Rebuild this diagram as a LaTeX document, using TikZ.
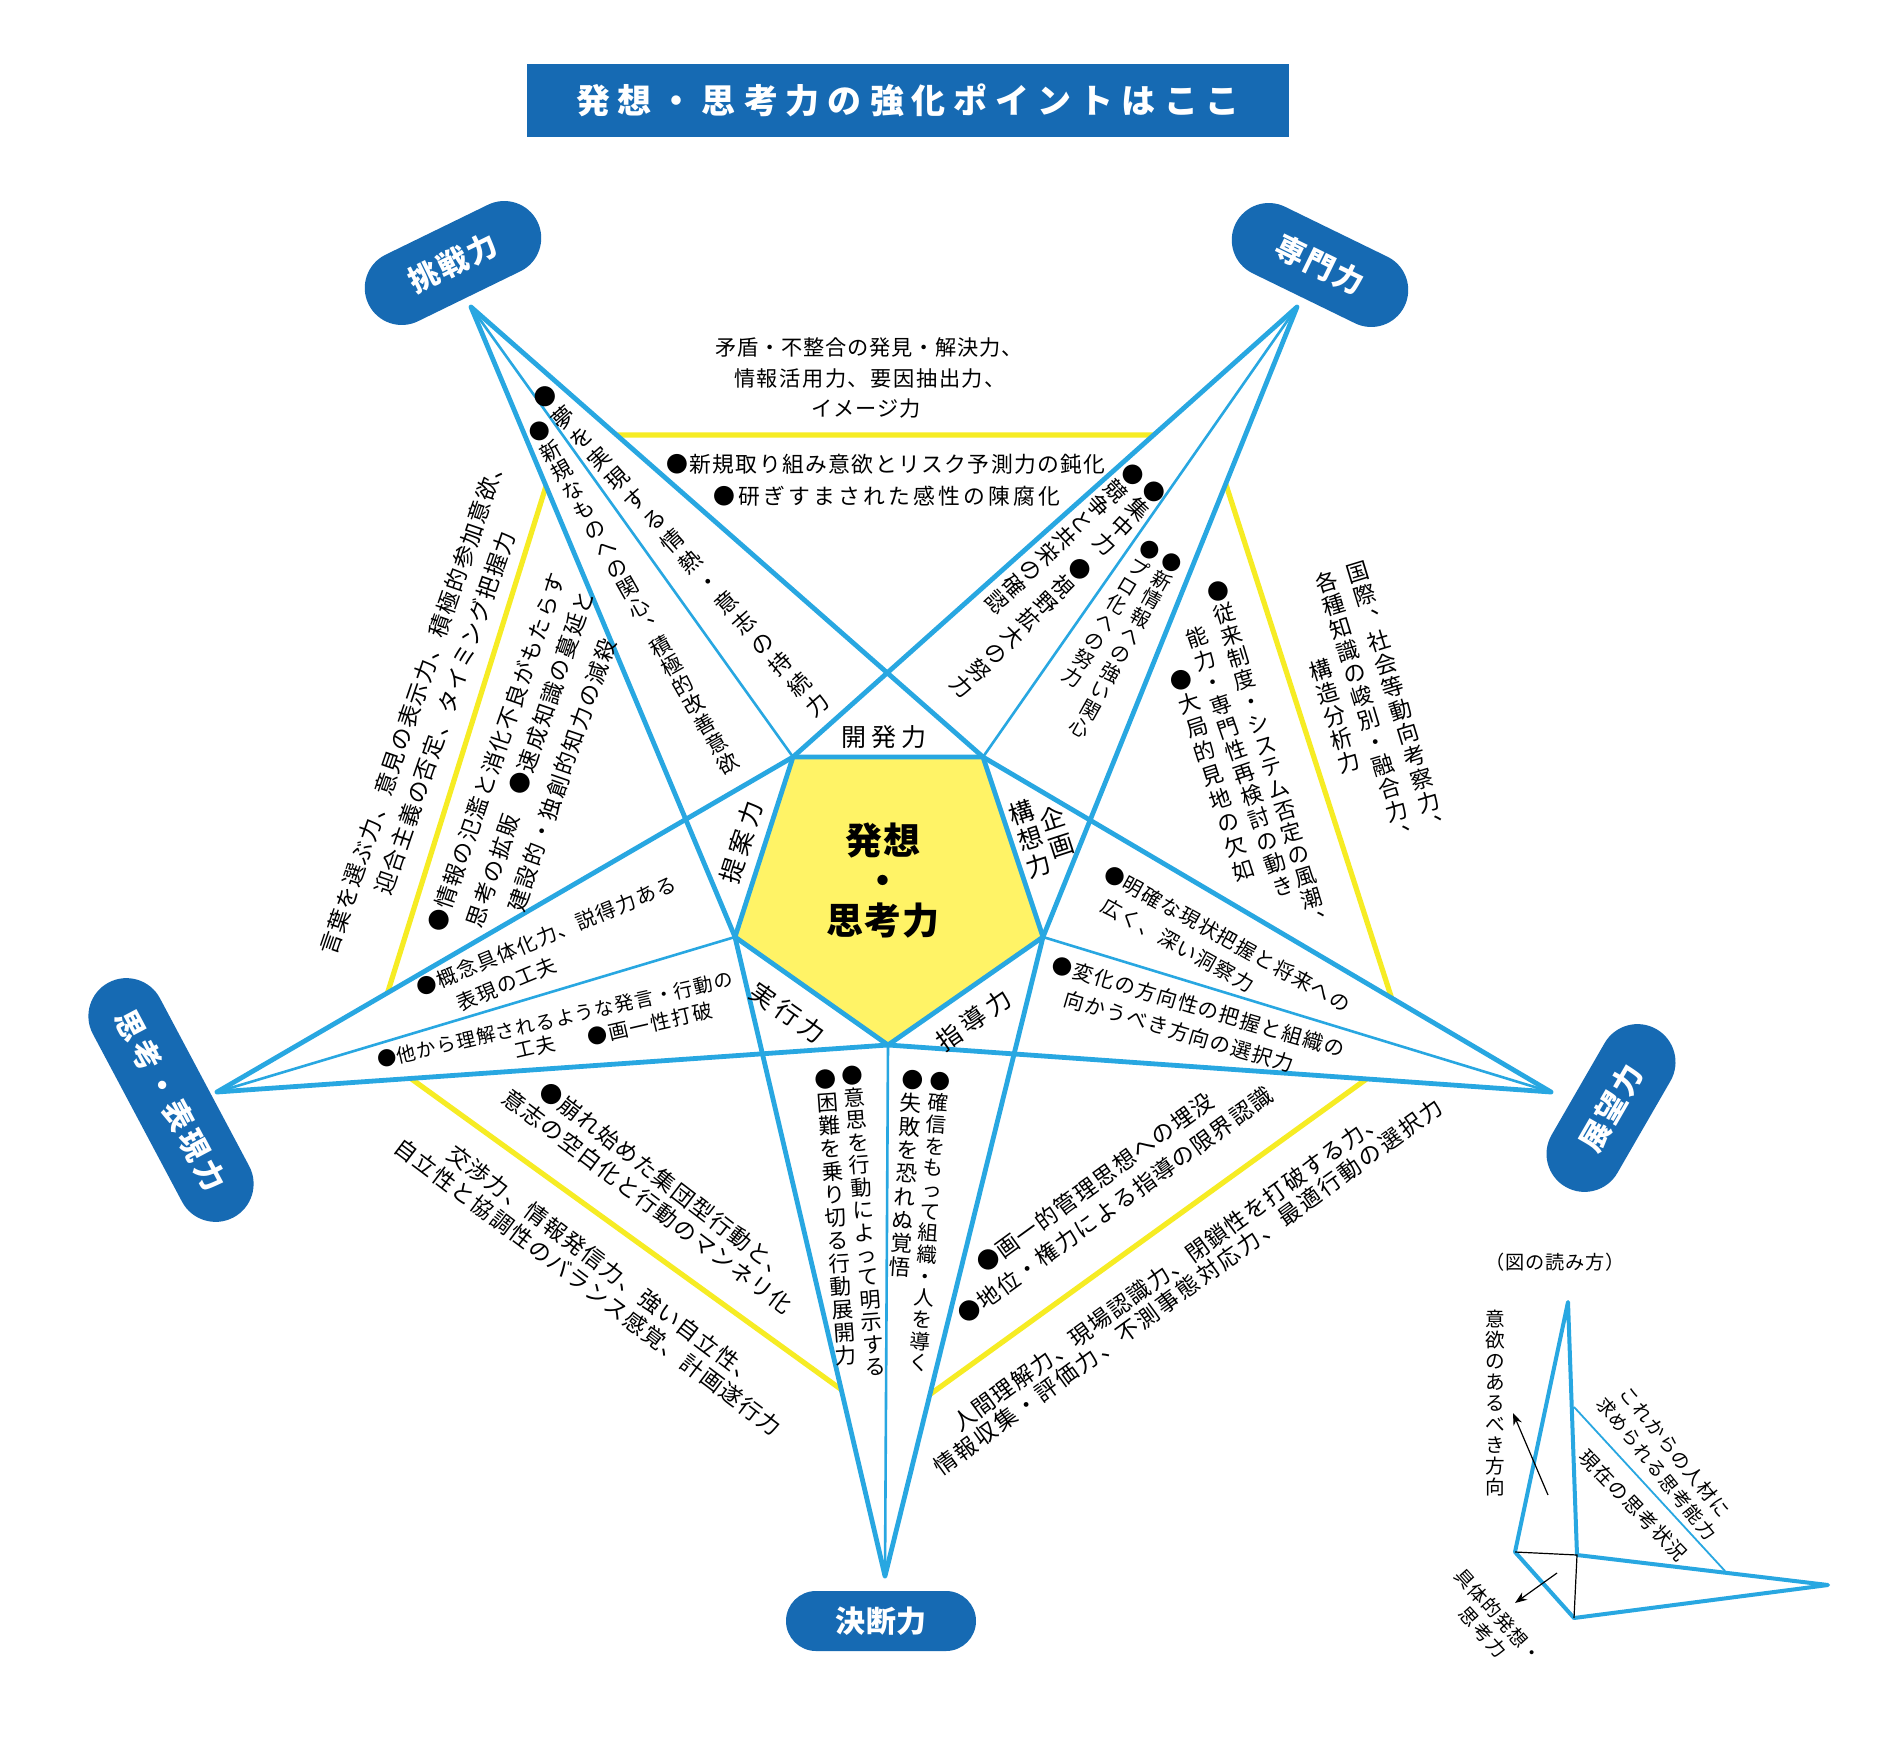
\documentclass[tikz,border=0pt]{standalone}
\usepackage{fontspec}
\setmainfont{Noto Sans CJK JP}
\usetikzlibrary{arrows.meta}
\definecolor{lineblue}{RGB}{40,167,225}
\definecolor{pillblue}{RGB}{22,106,179}
\definecolor{ylw}{RGB}{246,236,36}
\definecolor{ylwfill}{RGB}{255,243,102}
\newdimen\vpitch
\newdimen\pxu \pxu=0.5pt
\def\stopchars{\stopchars}
\def\emstrut{\vrule height.88em depth.12em width0pt\relax}
\def\hloop#1{\ifx\stopchars#1\else\hbox to\vpitch{\hss#1\hss}\expandafter\hloop\fi}
\newcommand\hs[2]{\vpitch=#1\pxu\hbox{\emstrut\hloop#2\stopchars}}
\def\vchr#1{\hbox to 1em{\hss\vbox to\vpitch{\vss\hbox{\emstrut\ifx、#1\kern.5em\smash{\raise.52em\hbox{#1}}\kern-.5em\else#1\fi}\vss}\hss}}
\def\vloop#1{\ifx\stopchars#1\else\vchr{#1}\expandafter\vloop\fi}
\newcommand\vs[2]{\vpitch=#1\pxu\vbox{\offinterlineskip\vloop#2\stopchars}}
\begin{document}
\begin{tikzpicture}[x=0.5pt,y=-0.5pt,
 thk/.style={draw=lineblue,line width=2.4pt,line cap=round,line join=round},
 thn/.style={draw=lineblue,line width=1.3pt,line cap=round},
 jt/.style={inner sep=0pt,font=\fontsize{#1}{#1}\selectfont},
 pill/.style={fill=pillblue,inner sep=0pt,text=white,font=\fontsize{15}{15}\selectfont\bfseries},
 lgb/.style={draw=lineblue,line width=2pt,line join=round},
 lgk/.style={draw=black,line width=0.6pt}]
\fill[white] (0,0) rectangle (1901,1738);
\useasboundingbox (0,0) rectangle (1901,1738);

% geometry
\coordinate (T1) at (471,307);
\coordinate (T2) at (1297,307);
\coordinate (T3) at (1551,1092);
\coordinate (T4) at (885,1576);
\coordinate (T5) at (217,1092);
\coordinate (VTL) at (793,757);
\coordinate (VTR) at (983,757);
\coordinate (VR) at (1043,937);
\coordinate (VB) at (888,1045);
\coordinate (VL) at (735,937);
\coordinate (Y1) at (562,435);
\coordinate (Y2) at (1210,435);
\coordinate (Y3) at (1408,1049);
\coordinate (Y4) at (889,1424);
\coordinate (Y5) at (370,1049);

% yellow pentagon
\draw[ylw,line width=2.6pt,line join=miter] (Y1)--(Y2)--(Y3)--(Y4)--(Y5)--cycle;

% star kites
\fill[white] (T1)--(VL)--(VTL)--(VTR)--cycle;
\fill[white] (T2)--(VTL)--(VTR)--(VR)--cycle;
\fill[white] (T3)--(VTR)--(VR)--(VB)--cycle;
\fill[white] (T4)--(VR)--(VB)--(VL)--cycle;
\fill[white] (T5)--(VB)--(VL)--(VTL)--cycle;
\fill[ylwfill] (VTL)--(VTR)--(VR)--(VB)--(VL)--cycle;

\draw[thn] (T1)--(VTL);
\draw[thn] (T2)--(VTR);
\draw[thn] (T3)--(VR);
\draw[thn] (T4)--(VB);
\draw[thn] (T5)--(VL);
\draw[thk] (T1)--(VL) (T1)--(VTR);
\draw[thk] (T2)--(VTL) (T2)--(VR);
\draw[thk] (T3)--(VTR) (T3)--(VB);
\draw[thk] (T4)--(VR) (T4)--(VL);
\draw[thk] (T5)--(VB) (T5)--(VTL);
\draw[thk] (VTL)--(VTR)--(VR)--(VB)--(VL)--cycle;

% title
\node[fill=pillblue,minimum width=381pt,minimum height=36.5pt,inner sep=0pt,text=white,font=\fontsize{17}{17}\selectfont\bfseries] (title) at (908,100.5) {\hs{42}{発想・思考力の強化ポイントはここ}};

% pills
\node[pill,minimum width=94pt,minimum height=37pt,rounded corners=18.5pt,rotate=26] (p1) at (453,263) {\hs{32}{挑戦力}};
\node[pill,minimum width=94pt,minimum height=37pt,rounded corners=18.5pt,rotate=-26] (p2) at (1320,265) {\hs{32}{専門力}};
\node[pill,minimum width=133pt,minimum height=38pt,rounded corners=19pt,rotate=-62] (p3) at (171,1100) {\hs{34}{思考・表現力}};
\node[pill,minimum width=91pt,minimum height=38pt,rounded corners=19pt,rotate=60] (p4) at (1611,1108) {\hs{32}{展望力}};
\node[pill,minimum width=95pt,minimum height=30pt,rounded corners=15pt] (p5) at (881,1621) {\hs{31}{決断力}};

% center
\node[inner sep=0pt,font=\fontsize{18.5}{18.5}\selectfont\bfseries] (c1) at (883,840) {\hs{38}{発想}};
\node[inner sep=0pt,font=\fontsize{18.5}{18.5}\selectfont\bfseries] (c2) at (883,880) {\hs{38}{・}};
\node[inner sep=0pt,font=\fontsize{18.5}{18.5}\selectfont\bfseries] (c3) at (883,920) {\hs{38}{思考力}};

% labels around inner pentagon
\node[jt=12.5] (o1) at (884,737) {\hs{30}{開発力}};
\node[jt=12.5,rotate=72] (o2) at (741.5,842.5) {\hs{30}{提案力}};
\node[jt=12.5,rotate=-35] (o3) at (788,1013) {\hs{30}{実行力}};
\node[jt=12.5,rotate=35] (o4) at (973.5,1020) {\hs{30}{指導力}};
\node[jt=12.5,rotate=18] (o5) at (1057,832) {\vs{28}{企画}};
\node[jt=12.5,rotate=18] (o6) at (1030,839) {\vs{28}{構想力}};

% top outer
\node[jt=10.6] (a1) at (869,347) {\hs{22}{矛盾・不整合の発見・解決力、}};
\node[jt=10.6] (a2) at (870,378) {\hs{22.8}{情報活用力、要因抽出力、}};
\node[jt=10.6] (a3) at (866,408) {\hs{22}{イメージ力}};
% top inner
\node[jt=10.9] (b1) at (886,464) {\hs{23.2}{●新規取り組み意欲とリスク予測力の鈍化}};
\node[jt=10.9] (b2) at (887,496) {\hs{25}{●研ぎすまされた感性の陳腐化}};

% left outer
\node[jt=11.3,rotate=71] (c4) at (413,705) {\hs{24}{言葉を選ぶ力、意見の表示力、積極的参加意欲、}};
\node[jt=11.3,rotate=71] (c5) at (445,713) {\hs{24}{迎合主義の否定、タイミング把握力}};
% left inside
\node[jt=11.1,rotate=71] (m1) at (496.7,752) {\hs{23.7}{●情報の氾濫と消化不良がもたらす}};
\node[jt=11.1,rotate=71] (m2) at (493,871) {\hs{24}{思考の拡販}};
\node[jt=11.1,rotate=71] (m3) at (551.7,692.8) {\hs{24}{●速成知識の蔓延と}};
\node[jt=11.1,rotate=71] (m4) at (561.7,775) {\hs{24}{建設的・独創的知力の減殺}};

% right outer
\node[jt=11.2,rotate=17] (r1) at (1396.7,698.5) {\vs{24}{国際、社会等動向考察力、}};
\node[jt=11.2,rotate=17] (r2) at (1365,708) {\vs{24}{各種知識の峻別・融合力、}};
\node[jt=11.2,rotate=17] (r3) at (1335,715.7) {\vs{24}{構造分析力}};

% bottom-left outer
\node[jt=11.2,rotate=-37] (d1) at (603,1265) {\hs{23.9}{交渉力、情報発信力、強い自立性、}};
\node[jt=11.2,rotate=-37] (d2) at (588,1287) {\hs{23.9}{自立性と協調性のバランス感覚、計画遂行力}};
% bottom-right outer
\node[jt=11.3,rotate=36] (e1) at (1168,1271) {\hs{24}{人間理解力、現場認識力、閉鎖性を打破する力、}};
\node[jt=11.3,rotate=36] (e2) at (1188,1287) {\hs{25}{情報収集・評価力、不測事態対応力、最適行動の選択力}};

% T1 kite
\node[jt=10.5,rotate=29.5] (n1) at (633.5,597.5) {\vs{22.4}{●新規なものへの関心、積極的改善意欲}};
\node[jt=11.2,rotate=41.4] (n2) at (681,551) {\vs{27.4}{●夢を実現する情熱・意志の持続力}};
% T2 kite
\node[jt=11,rotate=-43] (n3) at (1130,518) {\vs{24}{●集中力}};
\node[jt=10.9,rotate=-45] (n4) at (1021,628) {\vs{23.7}{●視野拡大の努力}};
\node[jt=10.9,rotate=-47] (n5) at (1065,538) {\vs{23.3}{●競争と共栄の確認}};
\node[jt=9.9,rotate=-29] (n6) at (1126,645) {\vs{21}{●新情報への強い関心}};
\node[jt=9.9,rotate=-31] (n7) at (1111.5,613.5) {\vs{21.2}{●プロ化への努力}};
% right inside
\node[jt=10.8,rotate=17] (n8) at (1268.3,756) {\vs{22.9}{●従来制度・システム否定の風潮、}};
\node[jt=10.8,rotate=19] (n9) at (1240,761.7) {\vs{23.9}{能力・専門性再検討の動き}};
\node[jt=10.9,rotate=18] (n10) at (1212.5,775) {\vs{25}{●大局的見地の欠如}};
% T3 kite
\node[jt=10.1,rotate=-29] (f1) at (1227.5,939) {\hs{21.5}{●明確な現状把握と将来への}};
\node[jt=10.1,rotate=-29] (f2) at (1178,945) {\hs{21.5}{広く、深い洞察力}};
\node[jt=10.2,rotate=-16.5] (g1) at (1198.5,1007) {\hs{21.8}{●変化の方向性の把握と組織の}};
\node[jt=10.2,rotate=-16.5] (g2) at (1179,1031.5) {\hs{21.8}{向かうべき方向の選択力}};
% T5 kite
\node[jt=10.1,rotate=22.5] (i1) at (546.5,936) {\hs{21.5}{●概念具体化力、説得力ある}};
\node[jt=10.1,rotate=22.5] (i2) at (506.5,984) {\hs{21.5}{表現の工夫}};
\node[jt=9.6,rotate=13] (j1) at (555,1019.5) {\hs{20.3}{●他から理解されるような発言・行動の}};
\node[jt=9.9,rotate=13] (j2) at (535,1047) {\hs{21}{工夫}};
\node[jt=10,rotate=13] (j3) at (650,1024) {\hs{21.7}{●画一性打破}};
% T4 kite
\node[jt=10.6,rotate=4.4] (n12) at (864,1221) {\vs{22.5}{●意思を行動によって明示する}};
\node[jt=10.8,rotate=4.2] (n13) at (836,1217.5) {\vs{23}{●困難を乗り切る行動展開力}};
\node[jt=10.2,rotate=-4.2] (n14) at (929.4,1222) {\vs{21.7}{●確信をもって組織・人を導く}};
\node[jt=10.8,rotate=-4] (n15) at (906.4,1173.5) {\vs{23.4}{●失敗を恐れぬ覚悟}};
% bottom inside
\node[jt=11.2,rotate=-37.5] (k1) at (665,1181) {\hs{23.8}{●崩れ始めた集団型行動と、}};
\node[jt=11.2,rotate=-37] (k2) at (648,1201.5) {\hs{23.8}{意志の空白化と行動のマンネリ化}};
\node[jt=11.3,rotate=36] (l1) at (1095,1182.5) {\hs{24}{●画一的管理思想への埋没}};
\node[jt=11.3,rotate=36] (l2) at (1115,1205) {\hs{24}{●地位・権力による指導の限界認識}};

% legend
\node[jt=9.6] (lg0) at (1555,1262) {\hs{20}{（図の読み方）}};
\coordinate (LA) at (1568,1302);
\coordinate (LB) at (1515,1552);
\coordinate (LC) at (1577,1555);
\coordinate (LD) at (1574,1618);
\coordinate (LE) at (1828,1585);
\coordinate (LP) at (1574,1407);
\coordinate (LQ) at (1725,1571);
\draw[lgb] (LB)--(LA)--(LC)--(LE)--(LD)--cycle;
\draw[draw=lineblue,line width=0.9pt] (LP)--(LQ);
\draw[lgk] (LB)--(LC)--(LD);
\coordinate (AR1s) at (1548,1495);
\coordinate (AR1e) at (1513,1413);
\coordinate (AR2s) at (1557,1573);
\coordinate (AR2e) at (1515,1603);
\draw[lgk,-{Stealth[length=6pt,width=4.5pt]}] (AR1s)--(AR1e);
\draw[lgk,-{Stealth[length=6pt,width=4.5pt]}] (AR2s)--(AR2e);
\node[jt=9.8] (lg1) at (1495,1403) {\vs{20.9}{意欲のあるべき方向}};
\node[jt=9.5,rotate=-51] (lg2) at (1675,1452) {\hs{20.3}{これからの人材に}};
\node[jt=9.3,rotate=-51] (lg3) at (1656.5,1468.5) {\hs{19.8}{求められる思考能力}};
\node[jt=9.8,rotate=-46] (lg4) at (1633.5,1505) {\hs{20.9}{現在の思考状況}};
\node[jt=9.4,rotate=-48] (lg5) at (1498.5,1615.5) {\hs{20}{具体的発想・}};
\node[jt=9.4,rotate=-48] (lg6) at (1483,1632.5) {\hs{21}{思考力}};
\end{tikzpicture}
\end{document}
